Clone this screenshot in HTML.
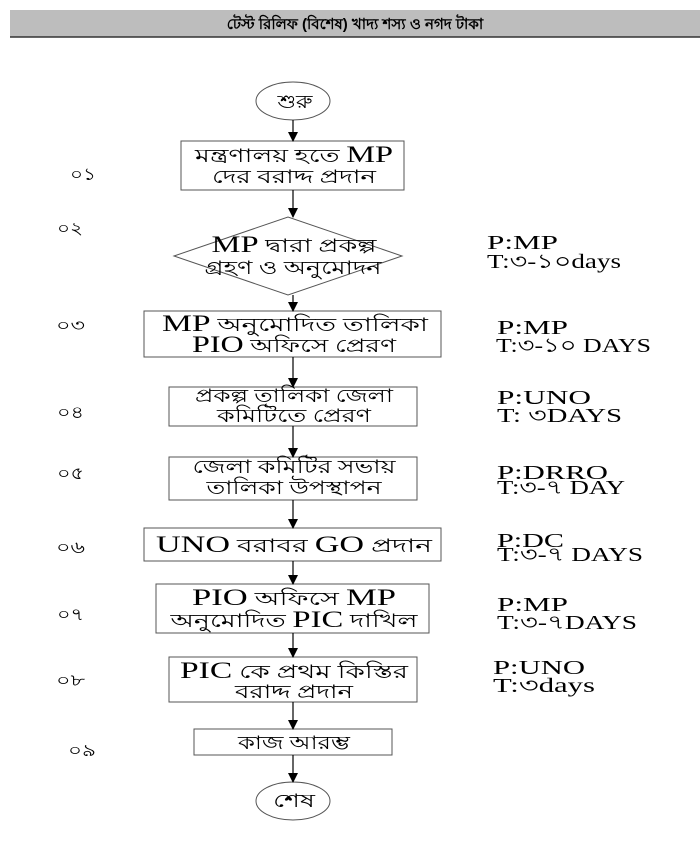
<!DOCTYPE html>
<html><head><meta charset="utf-8"><style>
html,body{margin:0;padding:0;background:#fff;}
svg{display:block;}
text{font-family:"Liberation Serif",serif;fill:#000;}
</style></head><body>
<svg width="700" height="866" viewBox="0 0 700 866" xmlns="http://www.w3.org/2000/svg">
<defs><marker id="a" markerWidth="10" markerHeight="10" refX="9" refY="5" orient="auto" markerUnits="userSpaceOnUse"><path d="M0,0 L10,5 L0,10 z" fill="#000"/></marker></defs>
<rect x="10" y="10" width="690" height="27" fill="#bdbdbd"/>
<line x1="10" y1="37" x2="700" y2="37" stroke="#333" stroke-width="1.5"/>
<text x="355" y="29" font-size="15" font-weight="bold" text-anchor="middle" style="font-family:'Liberation Sans',sans-serif">টেস্ট রিলিফ (বিশেষ) খাদ্য শস্য ও নগদ টাকা</text>
<g stroke="#555" stroke-width="1" fill="none">
<ellipse cx="293" cy="101" rx="37" ry="19"/>
<rect x="181" y="141" width="223" height="49"/>
<polygon points="174,256 288,217 402,256 288,295"/>
<rect x="144" y="311" width="297" height="46"/>
<rect x="169" y="387" width="248" height="39"/>
<rect x="169" y="457" width="248" height="43"/>
<rect x="144" y="528" width="297" height="33"/>
<rect x="156" y="584" width="273" height="49"/>
<rect x="169" y="657" width="248" height="45"/>
<rect x="194" y="729" width="198" height="26"/>
<ellipse cx="293" cy="801" rx="37" ry="19"/>
</g>
<g stroke="#000" stroke-width="1.2" marker-end="url(#a)">
<line x1="293" y1="120" x2="293" y2="141"/>
<line x1="293" y1="190" x2="293" y2="217"/>
<line x1="293" y1="295" x2="293" y2="311"/>
<line x1="293" y1="357" x2="293" y2="387"/>
<line x1="293" y1="426" x2="293" y2="457"/>
<line x1="293" y1="500" x2="293" y2="528"/>
<line x1="293" y1="561" x2="293" y2="584"/>
<line x1="293" y1="633" x2="293" y2="657"/>
<line x1="293" y1="702" x2="293" y2="729"/>
<line x1="293" y1="755" x2="293" y2="782"/>
</g>
<g font-size="19" text-anchor="middle">
<text x="295" y="108" textLength="35" lengthAdjust="spacingAndGlyphs">শুরু</text>
<text x="294" y="162" textLength="198" lengthAdjust="spacingAndGlyphs">মন্ত্রণালয় হতে <tspan font-size="23">MP</tspan></text>
<text x="294" y="183" textLength="164" lengthAdjust="spacingAndGlyphs">দের বরাদ্দ প্রদান</text>
<text x="294" y="252" textLength="165" lengthAdjust="spacingAndGlyphs"><tspan font-size="23">MP</tspan> দ্বারা প্রকল্প</text>
<text x="293" y="274" textLength="177" lengthAdjust="spacingAndGlyphs">গ্রহণ ও অনুমোদন</text>
<text x="295" y="331" textLength="266" lengthAdjust="spacingAndGlyphs"><tspan font-size="23">MP</tspan> অনুমোদিত  তালিকা</text>
<text x="294" y="352" textLength="204" lengthAdjust="spacingAndGlyphs"><tspan font-size="23">PIO</tspan> অফিসে প্রেরণ</text>
<text x="294" y="402" textLength="198" lengthAdjust="spacingAndGlyphs">প্রকল্প তালিকা জেলা</text>
<text x="294" y="422" textLength="154" lengthAdjust="spacingAndGlyphs">কমিটিতে প্রেরণ</text>
<text x="294" y="473" textLength="203" lengthAdjust="spacingAndGlyphs">জেলা কমিটির সভায়</text>
<text x="294" y="494" textLength="175" lengthAdjust="spacingAndGlyphs">তালিকা উপস্থাপন</text>
<text x="294" y="552" textLength="276" lengthAdjust="spacingAndGlyphs"><tspan font-size="23">UNO</tspan> বরাবর <tspan font-size="23">GO</tspan> প্রদান</text>
<text x="294" y="605" textLength="204" lengthAdjust="spacingAndGlyphs"><tspan font-size="23">PIO</tspan> অফিসে <tspan font-size="23">MP</tspan></text>
<text x="294" y="627" textLength="247" lengthAdjust="spacingAndGlyphs">অনুমোদিত <tspan font-size="23">PIC</tspan> দাখিল</text>
<text x="294" y="678" textLength="228" lengthAdjust="spacingAndGlyphs"><tspan font-size="23">PIC</tspan> কে প্রথম কিস্তির</text>
<text x="294" y="698" textLength="118" lengthAdjust="spacingAndGlyphs">বরাদ্দ প্রদান</text>
<text x="294" y="749" textLength="112" lengthAdjust="spacingAndGlyphs">কাজ আরম্ভ</text>
<text x="294" y="807" textLength="42" lengthAdjust="spacingAndGlyphs">শেষ</text>
</g>
<g font-size="17">
<text x="70" y="180" textLength="26" lengthAdjust="spacingAndGlyphs">০১</text>
<text x="57" y="234" textLength="26" lengthAdjust="spacingAndGlyphs">০২</text>
<text x="56" y="331" textLength="29" lengthAdjust="spacingAndGlyphs">০৩</text>
<text x="57" y="418" textLength="27" lengthAdjust="spacingAndGlyphs">০৪</text>
<text x="57" y="479" textLength="27" lengthAdjust="spacingAndGlyphs">০৫</text>
<text x="56" y="553" textLength="29" lengthAdjust="spacingAndGlyphs">০৬</text>
<text x="57" y="620" textLength="27" lengthAdjust="spacingAndGlyphs">০৭</text>
<text x="56" y="686" textLength="29" lengthAdjust="spacingAndGlyphs">০৮</text>
<text x="68" y="756" textLength="28" lengthAdjust="spacingAndGlyphs">০৯</text>
</g>
<g font-size="20" lengthAdjust="spacingAndGlyphs">
<text x="487" y="249" textLength="71" lengthAdjust="spacingAndGlyphs">P:MP</text>
<text x="487" y="268" textLength="134" lengthAdjust="spacingAndGlyphs">T:৩-১০days</text>
<text x="497" y="334" textLength="71" lengthAdjust="spacingAndGlyphs">P:MP</text>
<text x="496" y="352" textLength="155" lengthAdjust="spacingAndGlyphs">T:৩-১০ DAYS</text>
<text x="497" y="404" textLength="94" lengthAdjust="spacingAndGlyphs">P:UNO</text>
<text x="497" y="422" textLength="125" lengthAdjust="spacingAndGlyphs">T: ৩DAYS</text>
<text x="497" y="479" textLength="111" lengthAdjust="spacingAndGlyphs">P:DRRO</text>
<text x="497" y="494" textLength="128" lengthAdjust="spacingAndGlyphs">T:৩-৭ DAY</text>
<text x="497" y="547" textLength="67" lengthAdjust="spacingAndGlyphs">P:DC</text>
<text x="497" y="561" textLength="146" lengthAdjust="spacingAndGlyphs">T:৩-৭ DAYS</text>
<text x="497" y="611" textLength="71" lengthAdjust="spacingAndGlyphs">P:MP</text>
<text x="497" y="629" textLength="140" lengthAdjust="spacingAndGlyphs">T:৩-৭DAYS</text>
<text x="493" y="674" textLength="92" lengthAdjust="spacingAndGlyphs">P:UNO</text>
<text x="493" y="692" textLength="102" lengthAdjust="spacingAndGlyphs">T:৩days</text>
</g>
</svg>
</body></html>
